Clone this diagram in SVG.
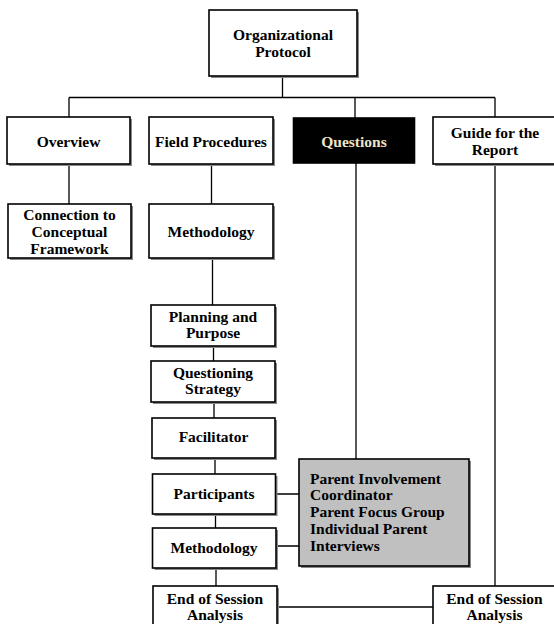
<svg xmlns="http://www.w3.org/2000/svg" width="554" height="624" viewBox="0 0 554 624">
<style>
.box{fill:#ffffff;stroke:#000000;stroke-width:1.6}
.dark{fill:#000000;stroke:#000000;stroke-width:1.6}
.grey{fill:#c0c0c0;stroke:#000000;stroke-width:1.6}
.sh{fill:#8a8a8a}
.t{font-family:"Liberation Serif","Times New Roman",serif;font-weight:bold;font-size:15.5px;fill:#000000;text-anchor:middle}
.tl{text-anchor:start}
.tq{fill:#efe4c6}
.c{fill:none;stroke:#000000;stroke-width:1.3}
</style>
<rect width="554" height="624" fill="#ffffff"/>
<g id="connectors">
<path class="c" d="M282.5 76 V97.5 M69 97.5 H495 M69 97.5 V117 M355 97.5 V118 M495 97.5 V117"/>
<path class="c" d="M69 164 V204 M211.5 164 V204 M212.5 258 V305 M213.5 346 V361 M214 402 V418 M215 458 V474 M215.5 514 V528 M216 568 V586"/>
<path class="c" d="M356 163 V459 M495 164 V586 M275.5 494 H299 M276 546 H299 M277 607 H433"/>
</g>
<g id="organizational-protocol">
<rect class="sh" x="211" y="12" width="148" height="66"/>
<rect class="box" x="209" y="10" width="148" height="66"/>
<text class="t" x="283" y="40">Organizational</text>
<text class="t" x="283" y="57">Protocol</text>
</g>
<g id="overview">
<rect class="sh" x="9" y="119" width="123" height="47"/>
<rect class="box" x="7" y="117" width="123" height="47"/>
<text class="t" x="68.5" y="146.5">Overview</text>
</g>
<g id="field-procedures">
<rect class="sh" x="151" y="119" width="124" height="47"/>
<rect class="box" x="149" y="117" width="124" height="47"/>
<text class="t" x="211" y="146.5">Field Procedures</text>
</g>
<g id="questions">
<rect class="dark" x="293.5" y="118" width="121" height="45"/>
<text class="t tq" x="354" y="146.5">Questions</text>
</g>
<g id="guide-for-the-report">
<rect class="sh" x="435" y="119" width="130" height="47"/>
<rect class="box" x="433" y="117" width="130" height="47"/>
<text class="t" x="495" y="137.5">Guide for the</text>
<text class="t" x="495" y="155">Report</text>
</g>
<g id="connection-to-conceptual-framework">
<rect class="sh" x="10" y="206" width="123" height="54"/>
<rect class="box" x="8" y="204" width="123" height="54"/>
<text class="t" x="69.5" y="219.5">Connection to</text>
<text class="t" x="69.5" y="236.5">Conceptual</text>
<text class="t" x="69.5" y="253.5">Framework</text>
</g>
<g id="methodology-1">
<rect class="sh" x="151" y="206" width="124" height="54"/>
<rect class="box" x="149" y="204" width="124" height="54"/>
<text class="t" x="211" y="236.5">Methodology</text>
</g>
<g id="planning-and-purpose">
<rect class="sh" x="153" y="307" width="124" height="41"/>
<rect class="box" x="151" y="305" width="124" height="41"/>
<text class="t" x="213" y="321.5">Planning and</text>
<text class="t" x="213" y="338">Purpose</text>
</g>
<g id="questioning-strategy">
<rect class="sh" x="153" y="363" width="124" height="41"/>
<rect class="box" x="151" y="361" width="124" height="41"/>
<text class="t" x="213" y="377.5">Questioning</text>
<text class="t" x="213" y="394">Strategy</text>
</g>
<g id="facilitator">
<rect class="sh" x="154" y="420" width="123" height="40"/>
<rect class="box" x="152" y="418" width="123" height="40"/>
<text class="t" x="213.5" y="442">Facilitator</text>
</g>
<g id="participants">
<rect class="sh" x="154.5" y="476" width="123" height="40"/>
<rect class="box" x="152.5" y="474" width="123" height="40"/>
<text class="t" x="214" y="499">Participants</text>
</g>
<g id="methodology-2">
<rect class="sh" x="154.5" y="530" width="123.5" height="40"/>
<rect class="box" x="152.5" y="528" width="123.5" height="40"/>
<text class="t" x="214" y="553">Methodology</text>
</g>
<g id="participant-list">
<rect class="sh" x="301" y="461" width="170" height="107"/>
<rect class="grey" x="299" y="459" width="170" height="107"/>
<text class="t tl" x="310" y="483.5">Parent Involvement</text>
<text class="t tl" x="310" y="500.3">Coordinator</text>
<text class="t tl" x="310" y="517">Parent Focus Group</text>
<text class="t tl" x="310" y="533.8">Individual Parent</text>
<text class="t tl" x="310" y="550.5">Interviews</text>
</g>
<g id="end-of-session-analysis-1">
<rect class="sh" x="155" y="588" width="124" height="45"/>
<rect class="box" x="153" y="586" width="124" height="45"/>
<text class="t" x="215" y="603.5">End of Session</text>
<text class="t" x="215" y="620">Analysis</text>
</g>
<g id="end-of-session-analysis-2">
<rect class="sh" x="435" y="588" width="130" height="45"/>
<rect class="box" x="433" y="586" width="130" height="45"/>
<text class="t" x="494.5" y="603.5">End of Session</text>
<text class="t" x="494.5" y="620">Analysis</text>
</g>
</svg>
